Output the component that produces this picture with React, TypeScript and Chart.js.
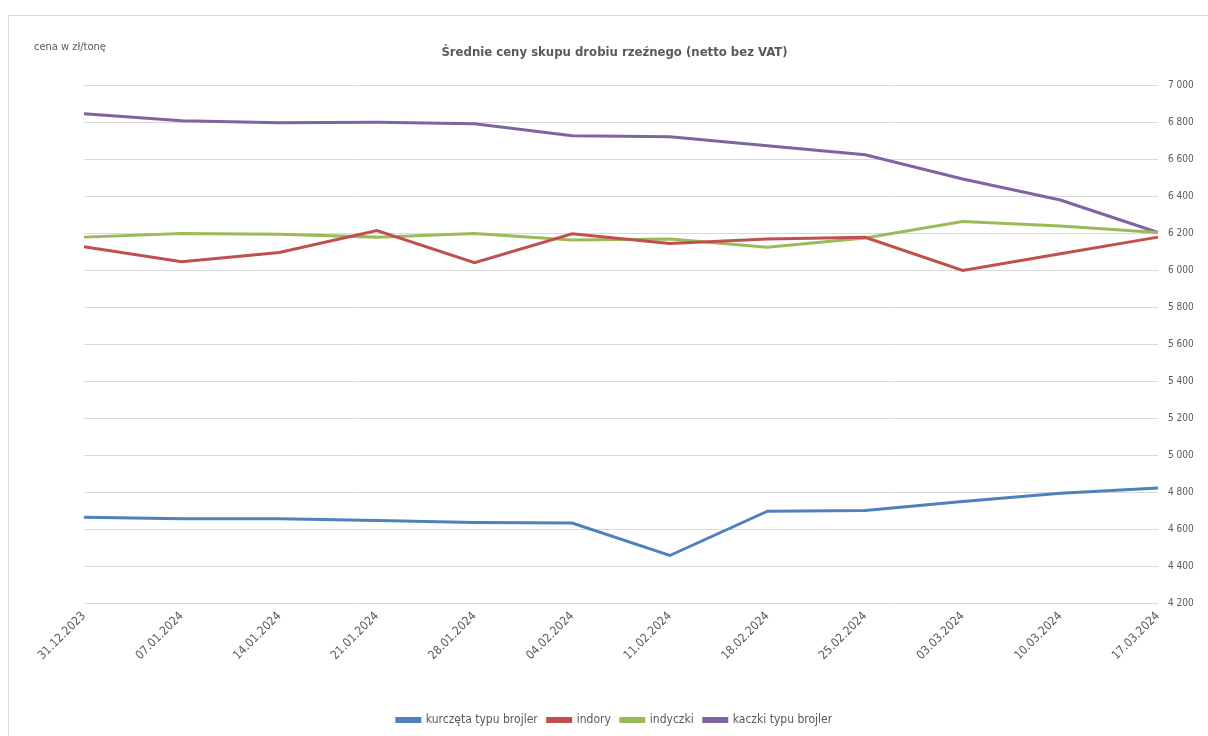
import React, { useEffect, useRef } from "react";
import { Chart, registerables } from "chart.js";

Chart.register(...registerables);

const dates = [
  "31.12.2023", "07.01.2024", "14.01.2024", "21.01.2024", "28.01.2024", "04.02.2024",
  "11.02.2024", "18.02.2024", "25.02.2024", "03.03.2024", "10.03.2024", "17.03.2024",
];
const kurczeta = [4664, 4656, 4656, 4647, 4636, 4633, 4457, 4697, 4700, 4749, 4794, 4823];
const indory = [6128, 6047, 6097, 6215, 6042, 6198, 6145, 6170, 6179, 6000, 6090, 6180];
const indyczki = [6180, 6200, 6195, 6180, 6200, 6165, 6170, 6125, 6175, 6265, 6240, 6205];
const kaczki = [6848, 6810, 6799, 6802, 6794, 6729, 6723, 6674, 6626, 6495, 6381, 6205];

const seriesNames = ["kurczęta typu brojler", "indory", "indyczki", "kaczki typu brojler"];
const seriesColors = ["#4F81BD", "#C0504D", "#9BBB59", "#8064A2"];

const FONT = '"Liberation Sans Narrow", "DejaVu Sans Condensed", "Open Sans", sans-serif';
const TEXT = "#595959";

export default function App() {
  const ref = useRef<HTMLCanvasElement | null>(null);

  useEffect(() => {
    if (!ref.current) return;
    const all = [kurczeta, indory, indyczki, kaczki];
    const chart = new Chart(ref.current, {
      type: "line",
      data: {
        labels: dates,
        datasets: all.map((d, i) => ({
          label: seriesNames[i],
          data: d,
          borderColor: seriesColors[i],
          backgroundColor: seriesColors[i],
          borderWidth: 3,
          pointRadius: 0,
          tension: 0,
          yAxisID: "y",
        })),
      },
      options: {
        animation: false,
        responsive: true,
        maintainAspectRatio: false,
        layout: { padding: { left: 12, right: 0, top: 0, bottom: 0 } },
        plugins: {
          tooltip: { enabled: false },
          title: {
            display: true,
            text: "Średnie ceny skupu drobiu rzeźnego (netto bez VAT)",
            color: TEXT,
            font: { family: FONT, size: 13, weight: "bold" },
            padding: { top: 29, bottom: 25 },
          },
          legend: {
            position: "bottom",
            labels: {
              color: TEXT,
              font: { family: FONT, size: 12 },
              boxWidth: 23,
              boxHeight: 3,
              padding: 10,
            },
          },
        },
        scales: {
          x: {
            grid: { display: false, drawTicks: false },
            border: { display: false },
            ticks: {
              color: TEXT,
              font: { family: FONT, size: 12 },
              maxRotation: 45,
              minRotation: 45,
              autoSkip: false,
              padding: 6,
            },
            afterFit: (s: any) => { s.height = 101; },
          },
          yl: {
            position: "left",
            grid: { display: false, drawTicks: false },
            border: { display: false },
            ticks: { display: false },
            afterFit: (s: any) => { s.width = 63; },
          },
          y: {
            position: "right",
            min: 4200,
            max: 7000,
            grid: { color: "#d9d9d9", drawTicks: false, lineWidth: 1 },
            border: { display: false },
            ticks: {
              stepSize: 200,
              color: TEXT,
              font: { family: FONT, size: 10 },
              padding: 10,
              callback: (v: any) => {
                const n = Number(v);
                const s = String(Math.round(n));
                return s.length > 3 ? s.slice(0, s.length - 3) + " " + s.slice(-3) : s;
              },
            },
            afterFit: (s: any) => { s.width = 50; },
          },
        },
      },
    });
    return () => chart.destroy();
  }, []);

  return (
    <div
      style={{
        position: "absolute",
        left: 8,
        top: 15,
        width: 1200,
        height: 721,
        boxSizing: "border-box",
        borderTop: "1px solid #d9d9d9",
        borderLeft: "1px solid #d9d9d9",
        background: "#fff",
      }}
    >
      <div
        style={{
          position: "absolute",
          left: 25,
          top: 24,
          fontFamily: FONT,
          fontSize: 11,
          color: TEXT,
          whiteSpace: "nowrap",
        }}
      >
        cena w zł/tonę
      </div>
      <div style={{ width: 1199, height: 720 }}>
        <canvas ref={ref} />
      </div>
    </div>
  );
}
